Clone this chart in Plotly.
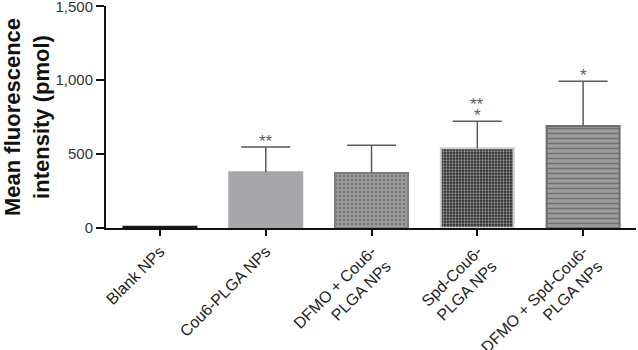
import plotly.graph_objects as go

categories = ["Blank NPs", "Cou6-PLGA NPs", "DFMO + Cou6-<br>PLGA NPs",
              "Spd-Cou6-<br>PLGA NPs", "DFMO + Spd-Cou6-<br>PLGA NPs"]
means = [8, 378, 372, 540, 690]
errors = [0, 170, 188, 183, 303]
signif = [[], ["**"], [], ["*", "**"], ["*"]]  # listed from bottom to top

fills = ["#1a1a1a", "#a7a7ab", "#9c9c9e", "#2a2a2a", "#9d9d9f"]
borders = ["#1a1a1a", "#a7a7ab", "#7e7e80", "#cfcfcf", "#6e6e70"]
pat_shapes = ["", "", ".", ".", "-"]
pat_fg = ["#1a1a1a", "#a7a7ab", "#4e4e4e", "#8a8a8a", "#2e2e2e"]
pat_size = [8, 8, 4, 3, 5]
pat_sol = [0.2, 0.2, 0.3, 0.45, 0.3]

fig = go.Figure()
fig.add_trace(go.Bar(
    x=categories, y=means, width=0.69,
    marker=dict(color=fills, line=dict(color=borders, width=2),
                pattern=dict(shape=pat_shapes, fgcolor=pat_fg,
                             size=pat_size, solidity=pat_sol, fillmode="overlay")),
    showlegend=False,
))

# upper-only error bars (stems + caps), computed from the data arrays
stem_x, stem_y, cap_x, cap_y = [], [], [], []
for c, m, e in zip(categories, means, errors):
    if e > 0:
        stem_x += [c, c, None]
        stem_y += [m, m + e, None]
        cap_x.append(c)
        cap_y.append(m + e)
fig.add_trace(go.Scatter(x=stem_x, y=stem_y, mode="lines",
                         line=dict(color="#5a5a5a", width=1.5), showlegend=False,
                         hoverinfo="skip"))
fig.add_trace(go.Scatter(x=cap_x, y=cap_y, mode="markers",
                         marker=dict(symbol="line-ew", size=35,
                                     line=dict(color="#5a5a5a", width=1.5)),
                         showlegend=False, hoverinfo="skip"))

for c, m, e, marks in zip(categories, means, errors, signif):
    for i, s in enumerate(marks):
        fig.add_annotation(x=c, y=m + e, text=s, showarrow=False, yanchor="middle",
                           yshift=6 + 11 * i, font=dict(size=17, color="#5e5e5e",
                                                        family="Liberation Sans, Arial"))

fig.update_layout(
    width=638, height=350, margin=dict(l=106, r=2, t=6, b=122),
    plot_bgcolor="white", paper_bgcolor="white",
    font=dict(family="Liberation Sans, Arial", color="#222222"),
    separators=".,",
)
fig.update_yaxes(range=[0, 1502], tickvals=[0, 500, 1000, 1500], tickformat=",",
                 automargin=False, ticklabeloverflow="allow",
                 showgrid=False, zeroline=False, showline=True, linecolor="#111111",
                 linewidth=2, ticks="outside", ticklen=8, tickwidth=1.5, tickcolor="#111111",
                 tickfont=dict(size=15, color="#333333"),
                 title=dict(text="<b>Mean fluorescence<br>intensity (pmol)</b>", standoff=6,
                            font=dict(size=22, color="#111111",
                                      family="Liberation Sans, Arial")))
fig.update_xaxes(range=[-0.51, 4.5], showgrid=False, showline=True, linecolor="#111111",
                 automargin=False, ticklabeloverflow="allow",
                 linewidth=2, ticks="outside", ticklen=6, tickwidth=1.5, tickcolor="#111111",
                 tickangle=-45, tickfont=dict(size=16, color="#222222"))

fig.write_html("out.html", config={"displayModeBar": False},
               post_script="document.body.style.margin='0';document.body.style.overflow='hidden';")
